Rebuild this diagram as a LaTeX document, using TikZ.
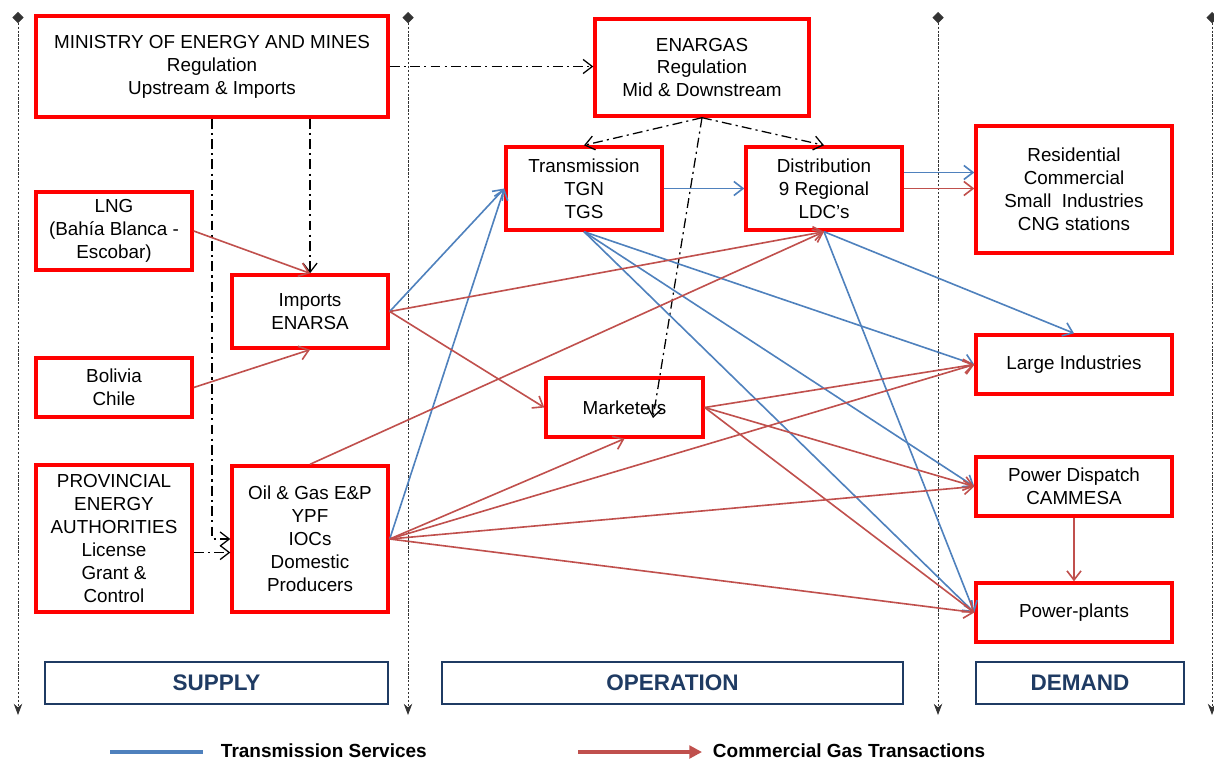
\documentclass[tikz,border=0pt]{standalone}
\usepackage{fontspec}
\setmainfont{Liberation Sans}
\usepackage{tikz}
\usetikzlibrary{arrows.meta}
\definecolor{tsblue}{HTML}{4F81BD}
\definecolor{cgred}{HTML}{C0504D}
\definecolor{navy}{HTML}{1F3B63}
\definecolor{boxred}{HTML}{FF0000}

\begin{document}
\begin{tikzpicture}[
    x=0.025cm, y=-0.025cm,
    box/.style={draw=boxred, fill=white, line width=2.4pt, align=center, inner sep=1pt,
                font=\fontsize{13.4}{16.3}\selectfont},
    sz/.style 2 args={minimum width=#1cm, minimum height=#2cm},
    sect/.style={draw=navy, line width=1.3pt, minimum height=1.05cm, text=navy,
                 font=\fontsize{16}{19}\selectfont\bfseries},
    legend/.style={font=\fontsize{13.5}{16}\selectfont\bfseries},
    blu/.style={tsblue, line width=1.15pt, -{Straight Barb[length=6.5pt,width=10pt]}},
    rd/.style={cgred, line width=1.15pt, -{Straight Barb[length=6.5pt,width=10pt]}},
    reg/.style={black, line width=0.9pt, dash pattern=on 7pt off 3pt on 1.5pt off 3pt,
                -{Straight Barb[length=6.5pt,width=10pt]}},
    sep/.style={black!80, line width=0.6pt, dash pattern=on 1.6pt off 1.2pt,
                {Diamond[length=8pt,width=8pt,sep=0pt]}-{Stealth[length=8pt,width=6pt]}}
]
    \useasboundingbox (0,0) rectangle (1214,762);

    % section separators
    \foreach \xx in {18,408,938,1212}
        \draw[sep] (\xx,12) -- (\xx,715);

    % boxes
    \node[box, sz={8.8}{2.525}] (mem) at (212,66.5) {MINISTRY OF ENERGY AND MINES\\Regulation\\Upstream \& Imports};
    \node[box, sz={5.35}{2.425}] (enargas) at (702,67.5) {ENARGAS\\Regulation\\Mid \& Downstream};
    \node[box, sz={3.9}{2.075}] (trans) at (584,188.5) {Transmission\\TGN\\TGS};
    \node[box, sz={3.9}{2.075}] (dist) at (824,188.5) {Distribution\\9 Regional\\LDC’s};
    \node[box, sz={4.9}{3.175}] (resid) at (1074,189.5) {Residential\\Commercial\\Small\ \ Industries\\CNG stations};
    \node[box, sz={3.9}{1.95}] (lng) at (114,231) {LNG\\(Bahía Blanca -\\Escobar)};
    \node[box, sz={3.9}{1.825}] (imp) at (310,311.5) {Imports\\ENARSA};
    \node[box, sz={3.9}{1.475}] (bol) at (114,387.5) {Bolivia\\Chile};
    \node[box, sz={3.925}{1.475}] (mkt) at (624.5,407.5) {Marketers};
    \node[box, sz={4.9}{1.475}] (large) at (1074,364.5) {Large Industries};
    \node[box, sz={3.9}{3.675}] (prov) at (114,538.5) {PROVINCIAL\\ENERGY\\AUTHORITIES\\License\\Grant \&\\Control};
    \node[box, sz={3.9}{3.65}] (oil) at (310,539) {Oil \& Gas E\&P\\YPF\\IOCs\\Domestic\\Producers};
    \node[box, sz={4.9}{1.475}] (disp) at (1074,486.5) {Power Dispatch\\CAMMESA};
    \node[box, sz={4.9}{1.475}] (plants) at (1074,612.5) {Power-plants};

    % sections
    \node[sect, minimum width=8.575cm] (supply) at (216.5,683) {SUPPLY};
    \node[sect, minimum width=11.525cm] (oper) at (672.5,683) {OPERATION};
    \node[sect, minimum width=5.2cm] (demand) at (1080,683) {DEMAND};

    % regulation
    \coordinate (mktin) at (653,418);
    \draw[reg] (mem.east) -- (mem.east -| enargas.west);
    \draw[reg] (mem.south -| imp.north) -- (imp.north);
    \draw[reg] (mem.south) |- (oil.west);
    \draw[reg] ([yshift=-0.35cm]prov.east) -- ([yshift=-0.35cm]prov.east -| oil.west);
    \draw[reg] (enargas.south) -- (trans.north);
    \draw[reg] (enargas.south) -- (dist.north);
    \draw[reg] (enargas.south) -- (mktin);

    % transmission services
    \draw[blu] (imp.east) -- (trans.west);
    \draw[blu] (oil.east) -- (trans.west);
    \draw[blu] (trans.east) -- (dist.west);
    \draw[blu] ([yshift=0.4cm]dist.east) -- ([yshift=0.4cm]dist.east -| resid.west);
    \draw[blu] (trans.south) -- (large.west);
    \draw[blu] (trans.south) -- (disp.west);
    \draw[blu] (trans.south) -- (plants.west);
    \draw[blu] (dist.south) -- (large.north);
    \draw[blu] (dist.south) -- (plants.west);

    % commercial gas transactions
    \draw[rd] (lng.east) -- (imp.north);
    \draw[rd] (bol.east) -- (imp.south);
    \draw[rd] (imp.east) -- (dist.south);
    \draw[rd] (imp.east) -- (mkt.west);
    \draw[rd] (oil.north) -- (dist.south);
    \draw[rd] (oil.east) -- (mkt.south);
    \draw[rd] (oil.east) -- (large.west);
    \draw[rd] (oil.east) -- (disp.west);
    \draw[rd] (oil.east) -- (plants.west);
    \draw[rd] (dist.east) -- (dist.east -| resid.west);
    \draw[rd] (mkt.east) -- (large.west);
    \draw[rd] (mkt.east) -- (disp.west);
    \draw[rd] (mkt.east) -- (plants.west);
    \draw[rd] (disp.south) -- (plants.north);

    % legend
    \coordinate (lb1) at (110,752);
    \coordinate (lb2) at (203,752);
    \coordinate (lr1) at (578,752);
    \coordinate (lr2) at (702,752);
    \draw[tsblue, line width=2.5pt] (lb1) -- (lb2);
    \draw[cgred, line width=2.5pt, -{Triangle[length=9pt,width=9pt]}] (lr1) -- (lr2);
    \node[legend, anchor=west] (lbt) at (216,751) {Transmission Services};
    \node[legend, anchor=west] (lrt) at (708,751) {Commercial Gas Transactions};
\end{tikzpicture}
\end{document}
